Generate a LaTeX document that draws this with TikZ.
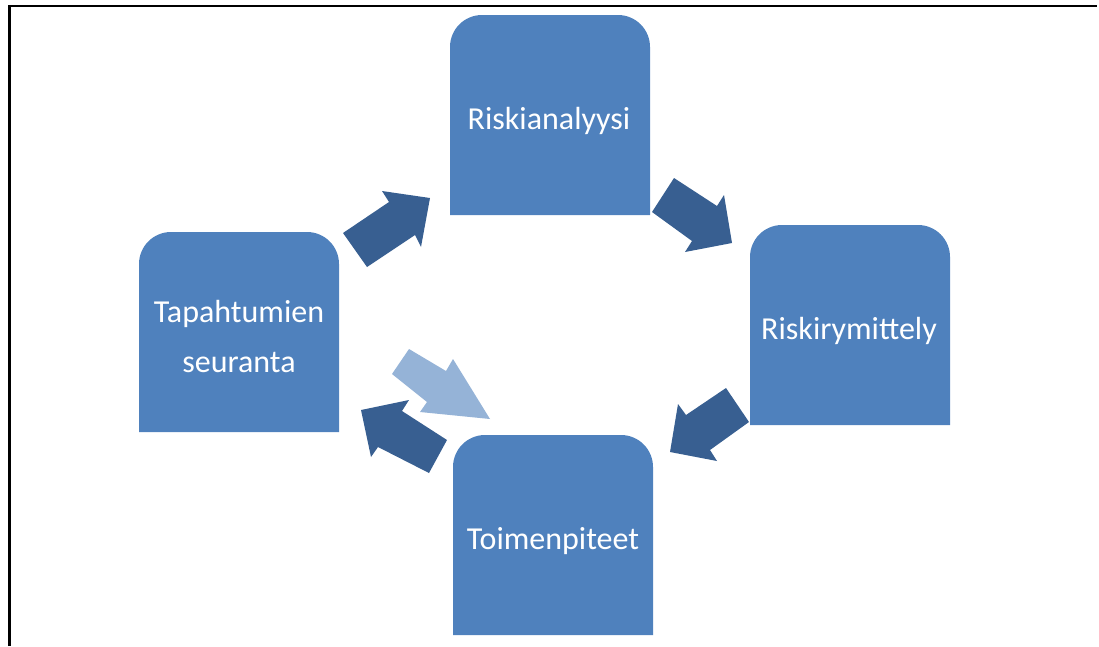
\documentclass[tikz,border=0pt]{standalone}
\usepackage{fontspec}
\setmainfont{Carlito}
\definecolor{boxblue}{HTML}{4F81BD}
\definecolor{darkarrow}{HTML}{385F91}
\definecolor{lightarrow}{HTML}{95B3D7}
\tikzset{
  boxshape/.style={fill=boxblue},
  boxtext/.style={text=white, font=\fontsize{32}{50}\selectfont, align=center, inner sep=0pt},
  darkblock/.style={fill=darkarrow},
  lightblock/.style={fill=lightarrow},
  frameline/.style={line width=2.8pt, black},
}
\begin{document}
\begin{tikzpicture}[x=1pt,y=-1pt]
\useasboundingbox (0,0) rectangle (1099,646);
% frame
\draw[frameline] (9.3,646) -- (9.3,6) -- (1097,6);
% boxes with rounded top corners
\fill[boxshape] (450,215) [rounded corners=32pt] -- (450,15) -- (650,15) [sharp corners] -- (650,215) -- cycle;
\fill[boxshape] (139,432) [rounded corners=32pt] -- (139,232) -- (339,232) [sharp corners] -- (339,432) -- cycle;
\fill[boxshape] (750,425) [rounded corners=32pt] -- (750,225) -- (950,225) [sharp corners] -- (950,425) -- cycle;
\fill[boxshape] (453,635) [rounded corners=32pt] -- (453,435) -- (653,435) [sharp corners] -- (653,635) -- cycle;
% labels
\node[boxtext] (ra) at (549,121) {Riskianalyysi};
\node[boxtext] (ts) at (239,336) {Tapahtumien\\seuranta};
\node[boxtext] (rr) at (849,331) {Riskirymittely};
\node[boxtext] (tp) at (553,541) {Toimenpiteet};
% block arrows
\fill[darkblock] (343,233) -- (389,202) -- (382,191) -- (430,198) -- (421,247) -- (415,235) -- (367,267) -- cycle;
\fill[darkblock] (652,212) -- (674,178) -- (717,206) -- (724,195) -- (732,243) -- (685,252) -- (692,241) -- cycle;
\fill[darkblock] (749,422) -- (726,388) -- (686,415) -- (678,404) -- (670,452) -- (717,461) -- (710,450) -- cycle;
\fill[darkblock] (447,440) -- (429,473) -- (378,447) -- (371,457) -- (361,410) -- (409,400) -- (402,411) -- cycle;
\fill[lightblock] (409,349) -- (392,374) -- (427,402) -- (420,412) -- (490,419) -- (453,359) -- (446,371) -- cycle;
\end{tikzpicture}
\end{document}
